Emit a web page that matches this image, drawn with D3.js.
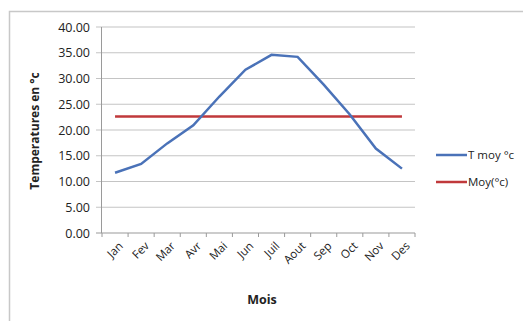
<!DOCTYPE html>
<meta charset="utf-8">
<style>
body {margin: 0; background: #fff;}
text {font-family: "Open Sans", sans-serif; fill: #222;}
</style>
<body>
<script src="https://d3js.org/d3.v7.min.js"></script>
<div id="chart"></div>
</body>
<script>
// data
var months = ["Jan", "Fev", "Mar", "Avr", "Mai", "Jun", "Juil", "Aout", "Sep", "Oct", "Nov", "Des"];
var tMoy = [11.7, 13.4, 17.4, 20.9, 26.5, 31.7, 34.6, 34.2, 28.8, 23.0, 16.4, 12.5];
var moyAnnuelle = [22.6, 22.6, 22.6, 22.6, 22.6, 22.6, 22.6, 22.6, 22.6, 22.6, 22.6, 22.6];
var yTicks = [0, 5, 10, 15, 20, 25, 30, 35, 40];
var seriesNames = ["T moy °c", "Moy(°c)"];

var width = 523, height = 321;
var svg = d3.select("#chart").append("svg")
    .attr("width", width)
    .attr("height", height);

// frame
svg.append("path")
    .attr("d", "M9.5,321 V11.5 H523")
    .attr("fill", "none")
    .attr("stroke", "#c8c8c8")
    .attr("stroke-width", 1.5);

var x = d3.scaleBand().domain(months).range([102, 415]);
var y = d3.scaleLinear().domain([0, 40]).range([233, 27]);

// gridlines
svg.append("g").selectAll("line")
    .data(yTicks).enter().append("line")
    .attr("x1", 96).attr("x2", 415)
    .attr("y1", function(d) { return y(d); })
    .attr("y2", function(d) { return y(d); })
    .attr("stroke", function(d) { return d === 0 ? "#9a9a9a" : "#c4c4c4"; })
    .attr("stroke-width", 1.2);

// y axis
svg.append("line")
    .attr("x1", 101.5).attr("x2", 101.5)
    .attr("y1", y(40)).attr("y2", y(0))
    .attr("stroke", "#9a9a9a");
svg.append("g").selectAll("text")
    .data(yTicks).enter().append("text")
    .attr("x", 90)
    .attr("y", function(d) { return y(d) + 4.5; })
    .attr("text-anchor", "end")
    .style("font-size", "12.5px")
    .text(function(d) { return d.toFixed(2); });

// x ticks
var bounds = months.map(function(m) { return x(m); }).concat([x.range()[1]]);
svg.append("g").selectAll("line")
    .data(bounds).enter().append("line")
    .attr("x1", function(d) { return d; })
    .attr("x2", function(d) { return d; })
    .attr("y1", y(0)).attr("y2", y(0) + 4)
    .attr("stroke", "#9a9a9a");

svg.append("g").selectAll("text")
    .data(months).enter().append("text")
    .attr("transform", function(d) {
        return "translate(" + (x(d) + x.bandwidth() / 2 + 3) + "," + (y(0) + 8) + ") rotate(-45)";
    })
    .attr("text-anchor", "end")
    .attr("dy", "0.7em")
    .style("font-size", "11.5px")
    .text(function(d) { return d; });

// axis titles
svg.append("text")
    .attr("transform", "translate(39,131) rotate(-90)")
    .attr("text-anchor", "middle")
    .style("font-size", "12px")
    .style("font-weight", "bold")
    .text("Temperatures en °c");
svg.append("text")
    .attr("x", 262).attr("y", 304)
    .attr("text-anchor", "middle")
    .style("font-size", "12.5px")
    .style("font-weight", "bold")
    .text("Mois");

// lines
var line = d3.line()
    .x(function(d, i) { return x(months[i]) + x.bandwidth() / 2; })
    .y(function(d) { return y(d); });

svg.append("path")
    .datum(moyAnnuelle)
    .attr("d", line)
    .attr("fill", "none")
    .attr("stroke", "#c0393b")
    .attr("stroke-width", 2.5);
svg.append("path")
    .datum(tMoy)
    .attr("d", line)
    .attr("fill", "none")
    .attr("stroke", "#4a72b8")
    .attr("stroke-width", 2.5);

// legend
var legendColors = ["#4a72b8", "#c0393b"];
var lg = svg.append("g").selectAll("g")
    .data(seriesNames).enter().append("g")
    .attr("transform", function(d, i) { return "translate(436," + (155 + i * 27) + ")"; });
lg.append("line")
    .attr("x1", 0).attr("x2", 31)
    .attr("stroke", function(d, i) { return legendColors[i]; })
    .attr("stroke-width", 2.5);
lg.append("text")
    .attr("x", 32).attr("y", 4)
    .style("font-size", "11.5px")
    .text(function(d) { return d; });
</script>
